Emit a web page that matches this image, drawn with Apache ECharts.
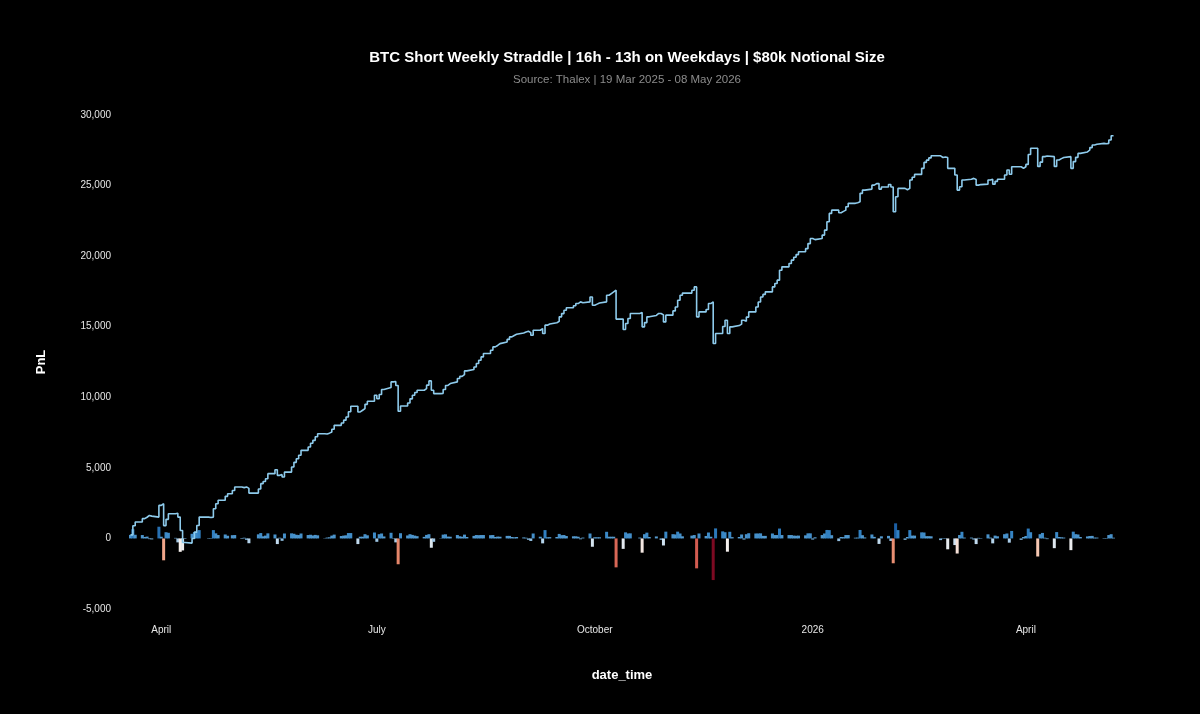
<!DOCTYPE html>
<html>
<head>
<meta charset="utf-8">
<title>BTC Short Weekly Straddle</title>
<script src="https://cdn.jsdelivr.net/npm/echarts@6/dist/echarts.min.js"></script>
<style>
    html, body { margin: 0; padding: 0; background: #000; }
    #main { width: 1200px; height: 714px; }
</style>
</head>
<body>
<div id="main"></div>
<script>
// daily PnL, one row per week (Mon..Fri), first row starts Monday 17 Mar 2025
var firstMonday = '2025-03-17';
var weeklyPnl = [
    [null, null, 250, 650, 260],
    [240, 100, 130, -50, -70],
    [830, 120, -1550, 440, 400],
    [40, -280, -950, -850, -40],
    [330, 450, 470, 590, 0],
    [-30, 30, 590, 360, 240],
    [280, 190, 0, 230, 240],
    [-40, 50, -100, -340, 0],
    [290, 380, 150, 200, 360],
    [280, -400, 50, -170, 350],
    [360, 330, 260, 240, 350],
    [240, 260, 210, 250, 220],
    [-20, 60, 80, 200, 270],
    [170, 200, 220, 380, 380],
    [-400, 120, 120, 300, 220],
    [420, -240, 300, 350, 140],
    [400, 30, -280, -1830, 370],
    [210, 300, 250, 200, 160],
    [110, 250, 300, -660, -240],
    [20, 270, 290, 130, 120],
    [240, 150, 120, 270, 100],
    [180, 240, 230, 240, 240],
    [230, 240, 100, 130, 120],
    [180, 180, 100, 80, 100],
    [70, 50, -100, -180, 350],
    [120, -350, 590, 80, 90],
    [100, 320, 230, 240, 170],
    [150, 150, 120, -60, 60],
    [350, -590, 80, 80, 80],
    [470, 120, 120, 120, -2050],
    [-740, 430, 350, 360, 0],
    [60, -1010, 300, 410, 100],
    [140, 0, -100, -500, 480],
    [300, 280, 480, 350, 150],
    [0, 200, 240, -2120, 350],
    [170, 420, 120, -2950, 710],
    [500, 440, -940, 470, 90],
    [100, 280, -80, 300, 370],
    [350, 350, 360, 180, 180],
    [350, 240, 240, 700, 240],
    [240, 240, 200, 190, 200],
    [220, 360, 360, -80, 80],
    [240, 350, 600, 590, 230],
    [-190, 100, 90, 240, 240],
    [50, 60, 600, 230, 70],
    [280, 110, 0, -390, 150],
    [180, -180, -1760, 1070, 590],
    [-100, 100, 590, 200, 200],
    [430, 420, 160, 160, 150],
    [0, -120, 30, -30, -770],
    [-470, -1070, 240, 470, 60],
    [60, -80, -400, 40, 30],
    [290, 60, -350, 200, 150],
    [300, 350, -300, 530, 0],
    [-100, 100, 170, 700, 440],
    [-1280, 300, 390, 50, -50],
    [-690, 450, 100, 80, 60],
    [-830, 480, 300, 280, 100],
    [140, 170, 180, 60, 60],
    [-30, 30, 240, 300, 50]
];

// x axis labels
var tickDates = ['2025-04-01', '2025-07-01', '2025-10-01', '2026-01-01', '2026-04-01'];
var tickLabels = ['April', 'July', 'October', '2026', 'April'];

// y axis ticks
var yTicks = [-5000, 0, 5000, 10000, 15000, 20000, 25000, 30000];

// colour scale for the bars (red = loss, blue = gain)
var barColors = ['#7d0a22', '#b8283a', '#e0785d', '#f6b396', '#f5f0ee', '#c9dff0', '#5b9fd1', '#3282c3', '#1c5fa3'];

var DAY = 24 * 3600 * 1000;
function toTime(s) { return Date.parse(s + 'T00:00:00Z'); }
var start = toTime(firstMonday);

// bars = daily pnl, line = running total
var barData = [];
var lineData = [];
var total = 0;
weeklyPnl.forEach(function (week, w) {
    week.forEach(function (v, d) {
        if (v === null) return;
        var t = start + (w * 7 + d) * DAY;
        total += v;
        barData.push([t, v]);
        lineData.push([t, total]);
    });
});

var tickTimes = tickDates.map(toTime);

var myChart = echarts.init(document.getElementById('main'));

var option = {
    backgroundColor: '#000000',
    animation: false,
    textStyle: { fontFamily: 'Liberation Sans, Arial, sans-serif' },
    title: {
        text: 'BTC Short Weekly Straddle | 16h - 13h on Weekdays | $80k Notional Size',
        subtext: 'Source: Thalex | 19 Mar 2025 - 08 May 2026',
        left: 622,
        textAlign: 'center',
        top: 45,
        itemGap: 9,
        textStyle: { color: '#ffffff', fontSize: 15, fontWeight: 'bold' },
        subtextStyle: { color: '#8c8c8c', fontSize: 11.5 }
    },
    grid: { left: 121, right: 77, top: 115, bottom: 105 },
    visualMap: {
        show: false,
        type: 'continuous',
        seriesIndex: 0,
        dimension: 1,
        min: -2950,
        max: 1070,
        inRange: { color: barColors }
    },
    // dates as a value axis so the ticks can sit on the first of each quarter
    xAxis: {
        type: 'value',
        min: toTime('2025-03-15'),
        max: toTime('2026-05-12'),
        name: 'date_time',
        nameLocation: 'middle',
        nameGap: 60,
        nameTextStyle: { color: '#ffffff', fontSize: 13, fontWeight: 'bold' },
        axisLine: { show: false },
        axisTick: { show: false },
        splitLine: { show: false },
        axisLabel: {
            customValues: tickTimes,
            color: '#e6e6e6',
            fontSize: 10,
            margin: 16,
            formatter: function (value) {
                var i = tickTimes.indexOf(value);
                return i >= 0 ? tickLabels[i] : '';
            }
        }
    },
    yAxis: {
        type: 'value',
        min: -5000,
        max: 30000,
        interval: 5000,
        name: 'PnL',
        nameLocation: 'middle',
        nameGap: 73,
        nameTextStyle: { color: '#ffffff', fontSize: 13, fontWeight: 'bold' },
        axisLine: { show: false },
        axisTick: { show: false },
        splitLine: { show: false },
        axisLabel: {
            color: '#e6e6e6',
            fontSize: 10,
            margin: 10,
            formatter: function (v) {
                if (yTicks.indexOf(v) < 0) return '';
                return v.toLocaleString('en-US');
            }
        }
    },
    series: [{
        name: 'daily',
        type: 'bar',
        data: barData,
        barWidth: 3
    }, {
        name: 'cumulative',
        type: 'line',
        step: 'end',
        data: lineData,
        showSymbol: false,
        lineStyle: { color: '#8ecbec', width: 1.6 },
        itemStyle: { color: '#8ecbec' }
    }]
};

myChart.setOption(option);
</script>
</body>
</html>
